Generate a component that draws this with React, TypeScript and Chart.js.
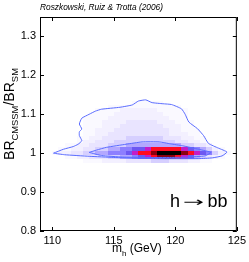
import React, { useEffect, useRef } from "react";
import { Chart, registerables } from "chart.js";

Chart.register(...registerables);

// ---- data ----
const xTickValues = [110, 115, 120, 125];
const yTickValues = [0.8, 0.9, 1.0, 1.1, 1.2, 1.3];
const yTickLabels = ["0.8", "0.9", "1", "1.1", "1.2", "1.3"];

// outer (95%) contour
const outerX = [110.1, 110.9, 111.7, 112.1, 112.4, 112.2, 112.2, 112.4, 112.2, 112.4, 113.0, 113.5, 114.0, 115.5, 116.5, 117.0, 117.6, 118.1, 119.0, 119.7, 120.5, 120.8, 121.1, 121.8, 122.3, 122.7, 123.5, 124.2, 123.8, 123.0, 121.9, 119.0, 117.0, 115.0, 113.0, 111.0, 110.1];
const outerY = [1.000, 1.010, 1.017, 1.023, 1.032, 1.045, 1.055, 1.062, 1.075, 1.090, 1.100, 1.108, 1.113, 1.118, 1.124, 1.134, 1.137, 1.130, 1.127, 1.125, 1.114, 1.100, 1.080, 1.063, 1.045, 1.025, 1.013, 1.003, 0.993, 0.988, 0.986, 0.986, 0.987, 0.989, 0.992, 0.996, 1.000];

// inner (68%) contour
const innerX = [113.0, 113.6, 114.4, 116.0, 117.3, 118.7, 119.6, 120.6, 121.9, 122.9, 122.4, 121.0, 119.7, 117.5, 115.7, 114.0, 113.0];
const innerY = [1.002, 1.008, 1.015, 1.023, 1.029, 1.029, 1.024, 1.019, 1.010, 1.002, 0.993, 0.990, 0.989, 0.989, 0.990, 0.994, 1.002];

// density grid: column edges (GeV) and row centres (ratio)
const heatColEdges = [110, 110.5, 111, 111.5, 112, 112.5, 113, 113.5, 114, 114.5, 115, 115.5, 116, 116.5, 117, 117.5, 118, 118.5, 119, 119.5, 120, 120.5, 121, 121.5, 122, 122.5, 123, 123.5, 124, 124.5];
const heatRowCenters = [1.13, 1.12, 1.11, 1.10, 1.09, 1.08, 1.07, 1.06, 1.05, 1.04, 1.03, 1.02, 1.01, 1.00, 0.99, 0.98];
const heatRows = [
  [0,0,0,0,0,0,0,0,0,0,0,0,0,1,1,1,1,1,0,0,0,0,0,0,0,0,0,0,0],
  [0,0,0,0,0,0,0,0,0,1,1,1,1,1,1,1,1,1,1,1,1,0,0,0,0,0,0,0,0],
  [0,0,0,0,0,0,0,1,1,1,1,2,2,2,2,2,2,1,1,1,1,1,0,0,0,0,0,0,0],
  [0,0,0,0,0,0,1,1,1,1,2,2,2,2,2,2,2,2,1,1,1,1,0,0,0,0,0,0,0],
  [0,0,0,0,0,1,1,1,1,2,2,2,2,2,2,2,2,2,2,1,1,1,0,0,0,0,0,0,0],
  [0,0,0,0,0,1,1,1,2,2,2,2,3,3,3,3,3,2,2,2,1,1,1,0,0,0,0,0,0],
  [0,0,0,0,0,1,1,1,2,2,2,3,3,3,3,3,3,3,2,2,2,1,1,0,0,0,0,0,0],
  [0,0,0,0,0,1,1,2,2,2,3,3,3,3,3,3,3,3,3,2,2,1,1,1,0,0,0,0,0],
  [0,0,0,0,0,1,1,2,2,3,3,3,3,3,3,3,3,3,3,2,2,2,1,1,0,0,0,0,0],
  [0,0,0,0,1,1,2,2,3,3,3,3,4,4,4,4,4,4,3,3,3,2,2,1,1,0,0,0,0],
  [0,0,0,0,1,2,2,3,3,3,4,4,4,4,4,4,4,4,4,4,3,3,2,2,1,0,0,0,0],
  [0,0,1,1,2,2,3,3,3,4,4,4,5,5,5,5,5,5,5,5,5,4,4,3,3,2,0,0,0],
  [0,1,1,2,2,3,3,4,4,5,5,6,6,7,7,8,9,9,9,9,9,8,7,6,5,4,2,1,0],
  [1,2,2,3,3,4,4,5,5,6,6,6,7,8,9,9,10,11,11,11,11,10,9,8,7,6,4,2,1],
  [0,0,1,1,2,2,3,3,3,4,4,5,5,6,7,8,9,10,10,10,9,8,7,5,4,3,2,1,0],
  [0,0,0,0,0,1,1,1,2,2,2,2,3,3,3,3,4,4,4,3,3,3,2,2,1,1,0,0,0],
];
const levelColors = ["rgba(0,0,0,0)", "#faf9ff", "#f3f0ff", "#e9e4ff", "#d6cfff", "#b3a8ff", "#8d7fff", "#6d58f2", "#c41cc8", "#ff0a20", "#8a0010", "#000000"];

const titleText = "Roszkowski, Ruiz & Trotta (2006)";
const processParts = ["h", "\u2192", "bb"];

const FONT = "'Liberation Sans', Arial, Helvetica, sans-serif";
const contourColor = "#5a6cff";

const overlayPlugin = {
  id: "overlay",
  beforeDatasetsDraw(chart: any) {
    const { ctx, chartArea, scales } = chart;
    const xs = scales.x;
    const ys = scales.y;
    ctx.save();
    ctx.beginPath();
    ctx.rect(chartArea.left, chartArea.top, chartArea.right - chartArea.left, chartArea.bottom - chartArea.top);
    ctx.clip();
    for (let r = 0; r < heatRows.length; r++) {
      const c = heatRowCenters[r];
      const y0 = Math.round(ys.getPixelForValue(c + 0.005));
      const y1 = Math.round(ys.getPixelForValue(c - 0.005));
      const row = heatRows[r];
      for (let i = 0; i < row.length; i++) {
        const lv = row[i];
        if (!lv) continue;
        const x0 = Math.round(xs.getPixelForValue(heatColEdges[i]));
        const x1 = Math.round(xs.getPixelForValue(heatColEdges[i + 1]));
        ctx.fillStyle = levelColors[lv];
        ctx.fillRect(x0, y0, x1 - x0, y1 - y0);
      }
    }
    ctx.restore();
  },
  afterDraw(chart: any) {
    const { ctx, chartArea, scales } = chart;
    const xs = scales.x;
    const ys = scales.y;
    const L = chartArea.left, R = chartArea.right, T = chartArea.top, B = chartArea.bottom;
    ctx.save();
    // frame
    ctx.strokeStyle = "#000";
    ctx.lineWidth = 1;
    ctx.strokeRect(L + 0.5, T + 0.5, R - L - 1, B - T - 1);
    // inward ticks
    ctx.beginPath();
    for (const v of xTickValues) {
      const px = Math.round(xs.getPixelForValue(v)) + 0.5;
      ctx.moveTo(px, B);
      ctx.lineTo(px, B - 4);
      ctx.moveTo(px, T);
      ctx.lineTo(px, T + 4);
    }
    for (const v of yTickValues) {
      const py = Math.round(ys.getPixelForValue(v)) + 0.5;
      ctx.moveTo(L, py);
      ctx.lineTo(L + 4, py);
      ctx.moveTo(R, py);
      ctx.lineTo(R - 4, py);
    }
    ctx.stroke();

    ctx.fillStyle = "#000";
    ctx.textAlign = "left";
    ctx.textBaseline = "alphabetic";
    // title, fitted to its width in the original
    {
      ctx.font = `italic 8px ${FONT}`;
      const w = ctx.measureText(titleText).width;
      const size = Math.min(9, Math.max(6.5, 8 * 123 / w));
      ctx.font = `italic ${size}px ${FONT}`;
      ctx.fillText(titleText, 40, 10);
    }

    // process label  h -> bb
    ctx.font = `18px ${FONT}`;
    ctx.fillText(processParts[0], 170, 207);
    ctx.fillText(processParts[2], 207.5, 207);
    {
      ctx.font = `18px 'DejaVu Sans', ${FONT}`;
      const w = ctx.measureText(processParts[1]).width || 18;
      ctx.save();
      ctx.translate(183, 206);
      ctx.scale(21 / w, 0.7);
      ctx.fillText(processParts[1], 0, 0);
      ctx.restore();
    }

    // x axis title: m_h (GeV)
    let x = 112;
    const base = 252;
    ctx.font = `12px ${FONT}`;
    ctx.fillText("m", x, base);
    x += ctx.measureText("m").width;
    ctx.font = `8px ${FONT}`;
    ctx.fillText("h", x, base + 4);
    x += ctx.measureText("h").width;
    ctx.font = `12px ${FONT}`;
    ctx.fillText(" (GeV)", x, base);

    // y axis title: BR_CMSSM / BR_SM (rotated), fitted to ~92px length
    const parts: [string, boolean][] = [["BR", false], ["CMSSM", true], ["/BR", false], ["SM", true]];
    let total = 0;
    for (const [s, sub] of parts) {
      ctx.font = sub ? `9px ${FONT}` : `13.5px ${FONT}`;
      total += ctx.measureText(s).width;
    }
    const k = Math.min(1.3, Math.max(0.85, 92 / (total || 92)));
    ctx.translate(13.5, 160);
    ctx.rotate(-Math.PI / 2);
    let t = 0;
    for (const [s, sub] of parts) {
      ctx.font = sub ? `${9 * k}px ${FONT}` : `${13.5 * k}px ${FONT}`;
      ctx.fillText(s, t, sub ? 4.5 : 0);
      t += ctx.measureText(s).width;
    }
    ctx.restore();
  },
};

export default function App() {
  const ref = useRef<HTMLCanvasElement | null>(null);
  useEffect(() => {
    if (!ref.current) return;
    const mk = (xsArr: number[], ysArr: number[]) => xsArr.map((v, i) => ({ x: v, y: ysArr[i] }));
    const chart = new Chart(ref.current, {
      type: "scatter",
      data: {
        datasets: [
          { data: mk(outerX, outerY), showLine: true, pointRadius: 0, borderColor: contourColor, borderWidth: 1, fill: false, tension: 0.15 },
          { data: mk(innerX, innerY), showLine: true, pointRadius: 0, borderColor: contourColor, borderWidth: 1, fill: false, tension: 0.15 },
        ],
      },
      options: {
        animation: false,
        responsive: false,
        events: [],
        layout: { padding: { top: 17, right: 11, left: 0, bottom: 0 } },
        plugins: { legend: { display: false }, tooltip: { enabled: false }, title: { display: false } },
        scales: {
          x: {
            type: "linear",
            min: 109,
            max: 125,
            afterBuildTicks: (s: any) => { s.ticks = xTickValues.map((v) => ({ value: v })); },
            afterFit: (s: any) => { s.height = 31; },
            grid: { display: false, drawTicks: false },
            border: { display: false },
            ticks: { color: "#000", font: { family: FONT, size: 11 }, padding: 3, maxRotation: 0, autoSkip: false, callback: (v: any) => String(v) },
          },
          y: {
            type: "linear",
            min: 0.8,
            max: 1.35,
            afterBuildTicks: (s: any) => { s.ticks = yTickValues.map((v) => ({ value: v })); },
            afterFit: (s: any) => { s.width = 40; },
            grid: { display: false, drawTicks: false },
            border: { display: false },
            ticks: { color: "#000", font: { family: FONT, size: 11 }, padding: 4, autoSkip: false, callback: (_v: any, i: number) => yTickLabels[i] },
          },
        },
      },
      plugins: [overlayPlugin],
    });
    return () => chart.destroy();
  }, []);
  return (
    <div style={{ position: "fixed", left: 0, top: 0, width: 249, height: 262, background: "#fff" }}>
      <canvas ref={ref} width={249} height={262} style={{ display: "block" }} />
    </div>
  );
}
